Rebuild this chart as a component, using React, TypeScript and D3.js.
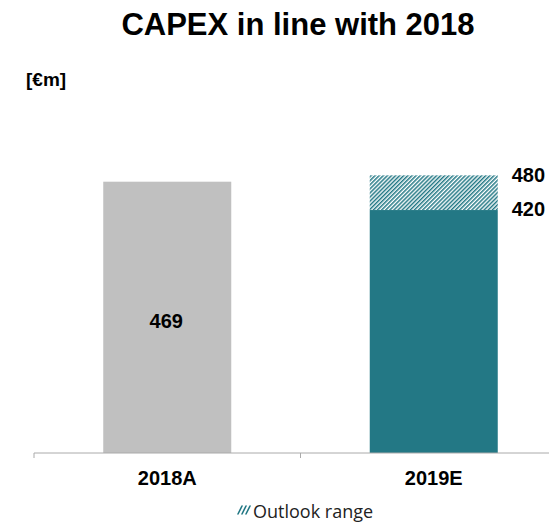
import React from "react";
import * as d3 from "d3";

const categories = ["2018A", "2019E"];
const baseValues = [469, 420];
const upperValues = [null, 480] as (number | null)[];
const barColors = ["#c0c0c0", "#237885"];
const title = "CAPEX in line with 2018";
const unitLabel = "[€m]";
const legendLabel = "Outlook range";

const FONT = "Liberation Sans, Arial, sans-serif";

export default function App() {
  const W = 549, H = 523;
  const baseY = 453;
  const x = d3.scaleBand<string>().domain(categories).range([34, 567]).paddingInner(0).paddingOuter(0);
  const y = d3.scaleLinear().domain([0, 469]).range([baseY, 181.7]);
  const barW = 128;
  const teal = barColors[1];
  return (
    <svg width={W} height={H} style={{ position: "absolute", left: 0, top: 0 }}>
      <defs>
        <pattern id="hatch" patternUnits="userSpaceOnUse" width="2.9" height="2.9" patternTransform="rotate(45)">
          <rect width="2.9" height="2.9" fill="#ffffff" />
          <rect width="1.5" height="2.9" fill={teal} />
        </pattern>
      </defs>
      <rect width={W} height={H} fill="#fff" />
      <text x={298} y={35} textAnchor="middle" fontFamily={FONT} fontWeight="bold" fontSize={31} fill="#000">{title}</text>
      <text x={26} y={86} fontFamily={FONT} fontWeight="bold" fontSize={19} fill="#000">{unitLabel}</text>
      {categories.map((c, i) => {
        const cx = x(c)! + x.bandwidth() / 2;
        const v = baseValues[i];
        const up = upperValues[i];
        return (
          <g key={c}>
            {up !== null && (
              <rect x={cx - barW / 2} y={y(up)} width={barW} height={y(v) - y(up)} fill="url(#hatch)" />
            )}
            <rect x={cx - barW / 2} y={y(v)} width={barW} height={baseY - y(v)} fill={barColors[i]} />
            {up === null ? (
              <text x={cx - 1} y={328} textAnchor="middle" fontFamily={FONT} fontWeight="bold" fontSize={20} fill="#000">{v}</text>
            ) : (
              <>
                <text x={cx + barW / 2 + 14} y={y(up) + 6.5} fontFamily={FONT} fontWeight="bold" fontSize={20} fill="#000">{up}</text>
                <text x={cx + barW / 2 + 14} y={y(v) + 6} fontFamily={FONT} fontWeight="bold" fontSize={20} fill="#000">{v}</text>
              </>
            )}
            <text x={cx} y={485} textAnchor="middle" fontFamily={FONT} fontWeight="bold" fontSize={20} fill="#000">{c}</text>
          </g>
        );
      })}
      <line x1={34} x2={567} y1={baseY} y2={baseY} stroke="#aaa" strokeWidth={1} />
      {[34, x(categories[1])!].map((tx, i) => (
        <line key={i} x1={tx} x2={tx} y1={baseY} y2={baseY + 5} stroke="#aaa" strokeWidth={1} />
      ))}
      <g stroke={teal} strokeWidth={1.6} strokeLinecap="round">
        {[0, 1, 2].map((k) => (
          <line key={k} x1={238 + k * 4} y1={514} x2={242 + k * 4} y2={506} />
        ))}
      </g>
      <text x={253} y={518} fontFamily="Open Sans, sans-serif" fontSize={18} fill="#222">{legendLabel}</text>
    </svg>
  );
}
